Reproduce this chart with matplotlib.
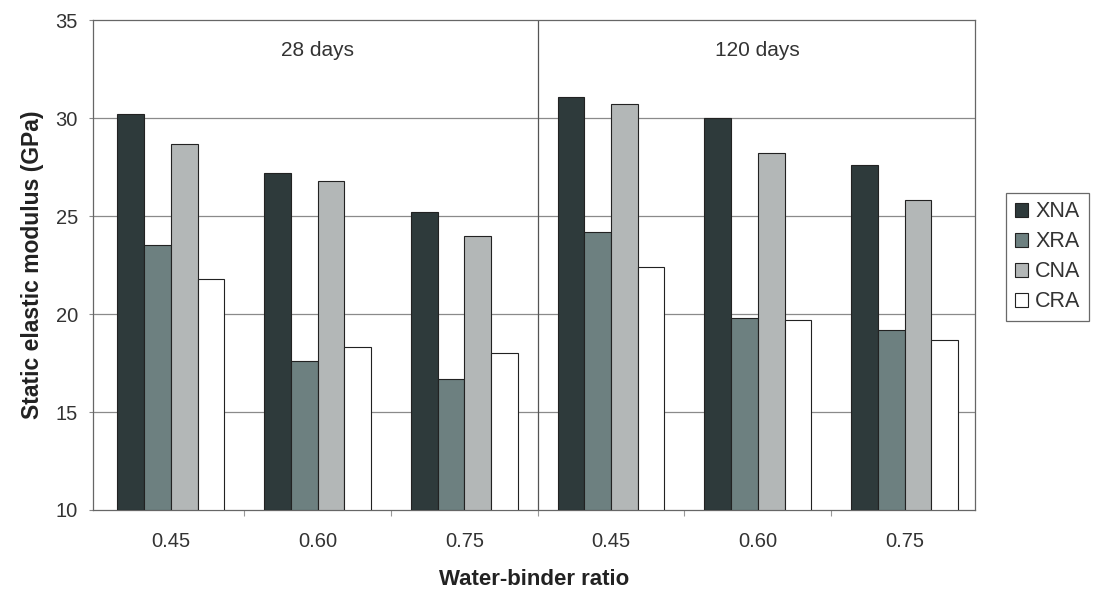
import matplotlib
matplotlib.use("Agg")
import matplotlib.pyplot as plt
import numpy as np

plt.rcParams['font.family'] = ['Liberation Sans', 'DejaVu Sans']

# Water-binder ratios for each curing age
ratio_labels = ["0.45", "0.60", "0.75", "0.45", "0.60", "0.75"]
age_labels = ["28 days", "120 days"]
series_names = ["XNA", "XRA", "CNA", "CRA"]

# Static elastic modulus (GPa)
xna = [30.2, 27.2, 25.2, 31.1, 30.0, 27.6]
xra = [23.5, 17.6, 16.7, 24.2, 19.8, 19.2]
cna = [28.7, 26.8, 24.0, 30.7, 28.2, 25.8]
cra = [21.8, 18.3, 18.0, 22.4, 19.7, 18.7]

series = [xna, xra, cna, cra]
colors = ["#2e3a3b", "#6d8080", "#b3b7b7", "#ffffff"]

fig = plt.figure(figsize=(10.96, 5.93), dpi=100)
ax = fig.add_axes([0.0849, 0.140, 0.8047, 0.826])

x = np.arange(len(ratio_labels))
width = 0.182
offsets = (np.arange(4) - 1.5) * width

for vals, off, col, name in zip(series, offsets, colors, series_names):
    ax.bar(x + off, np.array(vals) - 10, width=width, bottom=10, color=col,
           edgecolor="#222222", linewidth=0.8, label=name, zorder=3)

ax.set_ylim(10, 35)
ax.set_xlim(-0.53, 5.48)
ax.set_yticks([10, 15, 20, 25, 30, 35])
ax.set_xticks(x)
ax.set_xticklabels(ratio_labels)
ax.set_xticks(np.arange(0.5, 5.0, 1.0), minor=True)

for yv in [15, 20, 25, 30]:
    ax.axhline(yv, color="#8a8a8a", linewidth=0.9, zorder=1)

ax.axvline(2.5, color="#555555", linewidth=0.9, zorder=2)

for sp in ax.spines.values():
    sp.set_color("#666666")
    sp.set_linewidth(0.9)

ax.tick_params(axis="both", colors="#888888", labelcolor="#333333", labelsize=14.5)
ax.tick_params(axis="x", which="major", length=0, pad=16)
ax.tick_params(axis="x", which="minor", length=4, width=0.8, colors="#999999")
ax.tick_params(axis="y", length=3, pad=8)

ax.text(1.0, 33.45, age_labels[0], ha="center", va="center", fontsize=15, color="#333333")
ax.text(4.0, 33.45, age_labels[1], ha="center", va="center", fontsize=15, color="#333333")

ax.set_ylabel("Static elastic modulus (GPa)", fontsize=16.5, fontweight="bold", color="#222222", labelpad=8)
ax.set_xlabel("Water-binder ratio", fontsize=16, fontweight="bold", color="#222222", labelpad=13)

leg = fig.legend(loc="upper left", bbox_to_anchor=(0.918, 0.675), frameon=True,
                 fancybox=False, edgecolor="#444444", fontsize=15.5,
                 handlelength=0.6, handleheight=0.6, handletextpad=0.35,
                 labelspacing=0.42, borderpad=0.4, borderaxespad=0)
leg.get_frame().set_linewidth(0.9)
for t in leg.get_texts():
    t.set_color("#333333")

fig.savefig("out.png", dpi=100, facecolor="white")
